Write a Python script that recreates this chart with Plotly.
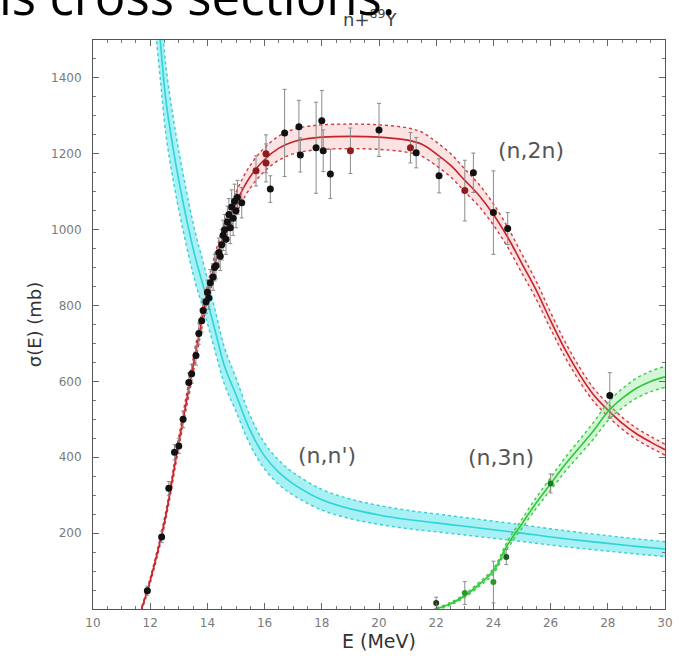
import plotly.graph_objects as go

# ---- evaluated cross sections (central curves), E in MeV, sigma in mb ----
E_nn = [12.2, 12.35, 12.55, 12.8, 13.0, 13.35, 13.6, 13.9, 14.3, 14.6, 15.0, 15.5,
        16.0, 16.5, 17.0, 18.0, 19.0, 20.0, 21.0, 22.0, 23.0, 24.0, 25.0, 26.0,
        27.0, 28.0, 29.0, 30.0]
sig_nn = [1620, 1500, 1340, 1215, 1130, 1000, 920, 840, 725, 640, 565, 470,
          403, 360, 330, 288, 264, 248, 236, 227, 218, 209, 200, 190,
          181, 173, 165, 158]

E_2n = [11.7, 12.0, 12.5, 13.0, 13.5, 14.0, 14.5, 15.0, 15.5, 16.0, 16.5, 17.0,
        17.5, 18.0, 19.0, 20.0, 21.0, 21.5, 22.0, 22.5, 23.0, 23.5, 24.0, 24.5,
        25.0, 25.5, 26.0, 26.5, 27.0, 27.5, 28.0, 28.5, 29.0, 29.5, 30.0]
sig_2n = [0, 75, 230, 440, 640, 830, 970, 1070, 1140, 1185, 1215, 1232,
          1240, 1244, 1246, 1244, 1236, 1225, 1200, 1170, 1130, 1090, 1040, 980,
          910, 840, 760, 685, 620, 565, 525, 490, 462, 440, 420]

E_3n = [22.0, 22.5, 23.0, 23.5, 24.0, 24.5, 25.0, 25.5, 26.0, 26.5, 27.0, 27.5,
        28.0, 28.5, 29.0, 29.5, 30.0]
sig_3n = [0, 14, 35, 65, 100, 170, 225, 280, 330, 380, 425, 470,
          520, 555, 582, 600, 612]

# uncertainty band half-width: relative part, absolute part (mb)
band_nn = (0.06, 10)
band_2n = (0.022, 5)
band_3n = (0.04, 3)

# ---- measured (n,2n) data ----
E_2n_data = [11.9, 12.4, 12.65, 12.85, 13.0, 13.15, 13.35, 13.45, 13.6, 13.7, 13.8,
             13.85, 13.95, 14.0, 14.05, 14.1, 14.2, 14.25, 14.3, 14.4, 14.45, 14.5,
             14.55, 14.6, 14.65, 14.7, 14.75, 14.8, 14.85, 14.9, 14.95, 15.0, 15.05,
             15.2, 15.7, 16.05, 16.05, 16.2, 16.7, 17.2, 17.25, 17.8, 18.0, 18.05,
             18.3, 19.0, 20.0, 21.1, 21.3, 22.1, 23.0, 23.3, 24.0, 24.5, 28.07]
sig_2n_data = [48, 190, 318, 413, 430, 500, 597, 620, 668, 726, 760,
               787, 810, 835, 820, 860, 875, 900, 905, 940, 930, 960,
               985, 1000, 975, 1020, 1040, 1005, 1060, 1030, 1075, 1050, 1085,
               1071, 1155, 1200, 1176, 1107, 1255, 1271, 1197, 1216, 1287, 1208,
               1147, 1208, 1263, 1216, 1203, 1142, 1103, 1150, 1045, 1003, 563]
err_2n_data = [12, 15, 18, 20, 20, 22, 25, 25, 25, 28, 30,
               30, 30, 32, 30, 35, 35, 35, 35, 38, 38, 40,
               40, 40, 40, 42, 42, 42, 45, 45, 45, 45, 45,
               40, 40, 50, 50, 35, 115, 70, 45, 120, 80, 55,
               65, 60, 70, 40, 40, 45, 80, 52, 110, 42, 60]
red_marked = {15.7, 16.05, 19.0, 23.0, 21.1}

# ---- measured (n,3n) data ----
E_3n_data = [22.0, 23.0, 24.0, 24.45, 26.0]
sig_3n_data = [16, 42, 71, 137, 331]
err_3n_data = [15, 30, 55, 20, 25]

# tick labels
x_ticks = [10, 12, 14, 16, 18, 20, 22, 24, 26, 28, 30]
y_ticks = [200, 400, 600, 800, 1000, 1200, 1400]


def band(sig, spec):
    rel, ab = spec
    up = [v + rel * v + ab for v in sig]
    lo = [v - rel * v - ab for v in sig]
    return up, lo


fig = go.Figure()


def add_curve(E, sig, spec, line_col, dot_col, fill_col):
    up, lo = band(sig, spec)
    fig.add_trace(go.Scatter(x=E, y=up, mode="lines", line=dict(color=dot_col, width=1.4, dash="dot", shape="spline"),
                             hoverinfo="skip", showlegend=False))
    fig.add_trace(go.Scatter(x=E, y=lo, mode="lines", line=dict(color=dot_col, width=1.4, dash="dot", shape="spline"),
                             fill="tonexty", fillcolor=fill_col, hoverinfo="skip", showlegend=False))
    fig.add_trace(go.Scatter(x=E, y=sig, mode="lines", line=dict(color=line_col, width=1.6, shape="spline"),
                             showlegend=False))


add_curve(E_nn, sig_nn, band_nn, "#2fd3da", "#35cfd6", "rgba(80,225,232,0.50)")
add_curve(E_2n, sig_2n, band_2n, "#c8232a", "#cf3a3f", "rgba(240,150,155,0.28)")
add_curve(E_3n, sig_3n, band_3n, "#2fc63a", "#3ccc46", "rgba(130,230,140,0.35)")

marker_cols = ["#8e1c1c" if e in red_marked else "#111111" for e in E_2n_data]
fig.add_trace(go.Scatter(
    x=E_2n_data, y=sig_2n_data, mode="markers",
    error_y=dict(type="data", array=err_2n_data, color="#8a8a8a", thickness=1, width=2),
    marker=dict(color=marker_cols, size=7, symbol="circle"),
    showlegend=False))

fig.add_trace(go.Scatter(
    x=E_3n_data, y=sig_3n_data, mode="markers",
    error_y=dict(type="data", array=err_3n_data, color="#8a8a8a", thickness=1, width=2),
    marker=dict(color=["#1d3d1d", "#2a9a2a", "#2a9a2a", "#235a23", "#1f7a1f"], size=6),
    showlegend=False))

label_font = dict(family="DejaVu Sans", size=22, color="#555555")
annotations = [
    dict(x=25.3, y=1210, xref="x", yref="y", text="(n,2n)", showarrow=False, font=label_font),
    dict(x=18.17, y=405, xref="x", yref="y", text="(n,n')", showarrow=False, font=label_font),
    dict(x=24.28, y=400, xref="x", yref="y", text="(n,3n)", showarrow=False, font=label_font),
    dict(x=0.485, y=1.038, xref="paper", yref="paper", text="n+<sup>89</sup>Y", showarrow=False,
         font=dict(family="DejaVu Sans", size=18, color="#444444"), yanchor="middle"),
    dict(x=-0.167, y=1.014, xref="paper", yref="paper", text="is cross sections:", showarrow=False,
         xanchor="left", yanchor="bottom",
         font=dict(family="Open Sans", size=51, color="#000000")),
]

axis_common = dict(
    showline=True, linecolor="#555555", linewidth=1, mirror="ticks",
    ticks="inside", ticklen=6, tickcolor="#666666", tickwidth=1,
    showgrid=False, zeroline=False, ticklabeloverflow="allow",
    tickfont=dict(family="DejaVu Sans", size=12, color="#7a7a7a"),
)

fig.update_layout(
    width=679, height=660,
    margin=dict(l=93, r=6, t=40, b=51),
    paper_bgcolor="white", plot_bgcolor="white",
    xaxis=dict(range=[10, 30], tickvals=x_ticks, ticktext=[str(v) for v in x_ticks],
               minor=dict(dtick=0.5, ticks="inside", ticklen=3, tickcolor="#777777"),
               ticklabelstandoff=3,
               title=dict(text="E (MeV)", font=dict(family="DejaVu Sans", size=19, color="#333333"), standoff=4),
               **axis_common),
    yaxis=dict(range=[0, 1500], tickvals=y_ticks, ticktext=[str(v) for v in y_ticks],
               minor=dict(dtick=50, ticks="inside", ticklen=3, tickcolor="#777777"),
               ticklabelstandoff=8,
               title=dict(text="σ(E) (mb)", font=dict(family="DejaVu Sans", size=18, color="#333333"), standoff=4),
               **axis_common),
    annotations=annotations,
)

fig.write_html("out.html")
